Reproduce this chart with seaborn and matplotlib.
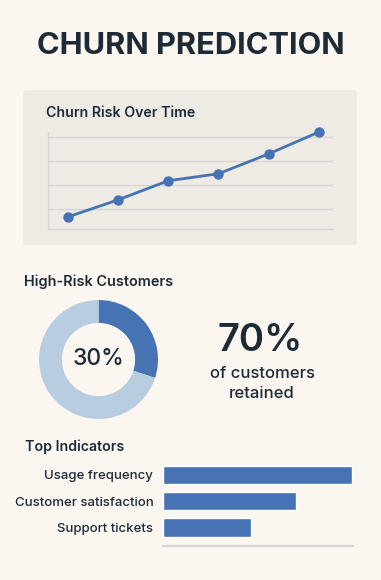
import matplotlib
matplotlib.use("Agg")
import matplotlib.pyplot as plt
from matplotlib.patches import FancyBboxPatch
import seaborn as sns
import pandas as pd

# ---------------- data ----------------
periods = [1, 2, 3, 4, 5, 6]
churn_risk = [6.7, 13.8, 21.8, 24.7, 33.0, 42.1]
risk_ticks = [10, 20, 30, 40]

donut_labels = ["High-Risk", "Other"]
donut_values = [30, 70]
high_risk_text = "30%"
retained_text = "70%"

indicators = ["Usage frequency", "Customer satisfaction", "Support tickets"]
importance = [99.5, 70, 46.3]

# ---------------- style ----------------
W, H = 381, 580
BG = "#FCF6F1"
PANEL = "#EEEAE4"
DARK = "#1C2B36"
BLUE = "#4573B4"
LIGHT = "#B9CDE1"
GRID = "#D9D6D1"

sns.set_theme(style="white")
plt.rcParams["font.family"] = ["Inter", "DejaVu Sans"]

fig = plt.figure(figsize=(W / 100, H / 100), dpi=100, facecolor=BG)


def ax_px(left, top, right, bottom):
    return fig.add_axes([left / W, 1 - bottom / H, (right - left) / W, (bottom - top) / H])


def fx(x):
    return x / W


def fy(y):
    return 1 - y / H


# title
fig.text(fx(190.5), fy(46), "CHURN PREDICTION", ha="center", va="center",
         fontsize=22.2, fontweight="bold", color=DARK)

# panel
panel = FancyBboxPatch((fx(23), fy(245)), fx(357) - fx(23), fy(90) - fy(245),
                       boxstyle="round,pad=0,rounding_size=0.008",
                       transform=fig.transFigure, facecolor=PANEL, edgecolor="none", zorder=-10)
fig.patches.append(panel)
fig.text(fx(46.5), fy(113), "Churn Risk Over Time", ha="left", va="center",
         fontsize=10.2, fontweight="semibold", color=DARK)

# line chart
ax1 = ax_px(48, 132, 333, 229)
ax1.set_facecolor("none")
ax1.set_zorder(2)
df_line = pd.DataFrame({"period": periods, "risk": churn_risk})
sns.lineplot(data=df_line, x="period", y="risk", ax=ax1, color=BLUE, linewidth=2,
             marker="o", markersize=7.5, markeredgewidth=0, clip_on=False, zorder=3)
ax1.set_xlim(periods[0] - 0.39, periods[-1] + 0.28)
ax1.set_ylim(1.7, 42.1)
ax1.set_yticks(risk_ticks)
ax1.yaxis.grid(True, color=GRID, linewidth=1)
ax1.set_xticks([])
ax1.tick_params(left=False, labelleft=False, bottom=False, labelbottom=False)
ax1.set_xlabel("")
ax1.set_ylabel("")
for s in ["top", "right"]:
    ax1.spines[s].set_visible(False)
for s in ["left", "bottom"]:
    ax1.spines[s].set_color(GRID)
    ax1.spines[s].set_linewidth(1)

# donut
fig.text(fx(24), fy(282), "High-Risk Customers", ha="left", va="center",
         fontsize=10.4, fontweight="semibold", color=DARK)
ax2 = ax_px(39, 300, 158, 419)
ax2.pie(donut_values, colors=[BLUE, LIGHT], startangle=90, counterclock=False,
        radius=1, wedgeprops=dict(width=0.385, edgecolor="none"))
ax2.set_xlim(-1, 1)
ax2.set_ylim(-1, 1)
ax2.set_aspect("equal")
ax2.axis("off")
ax2.text(0, 0, high_risk_text, ha="center", va="center", fontsize=16.5,
         fontweight="medium", color=DARK)

fig.text(fx(260), fy(341), retained_text, ha="center", va="center",
         fontsize=27.5, fontweight="semibold", color=DARK)
fig.text(fx(262), fy(374), "of customers", ha="center", va="center",
         fontsize=12, fontweight="medium", color=DARK)
fig.text(fx(262), fy(393), "retained", ha="center", va="center",
         fontsize=12, fontweight="medium", color=DARK)

# bars
fig.text(fx(25), fy(447), "Top Indicators", ha="left", va="center",
         fontsize=10.2, fontweight="semibold", color=DARK)
ax3 = ax_px(163, 461.85, 353, 545.9)
ax3.set_facecolor("none")
df_bar = pd.DataFrame({"indicator": indicators, "value": importance})
sns.barplot(data=df_bar, y="indicator", x="value", orient="h", ax=ax3,
            color=BLUE, saturation=1, width=0.7)
ax3.set_xlim(0, 100)
ax3.set_ylim(2.7, -0.5)
ax3.set_xticks([])
ax3.set_xlabel("")
ax3.set_ylabel("")
ax3.tick_params(left=False, bottom=False, length=0, pad=7)
for lbl in ax3.get_yticklabels():
    lbl.set_fontsize(9.5)
    lbl.set_fontweight("medium")
    lbl.set_color(DARK)
for s in ["top", "right", "left"]:
    ax3.spines[s].set_visible(False)
ax3.spines["bottom"].set_color(GRID)
ax3.spines["bottom"].set_linewidth(1.6)

fig.savefig("out.png", dpi=100, facecolor=BG)
